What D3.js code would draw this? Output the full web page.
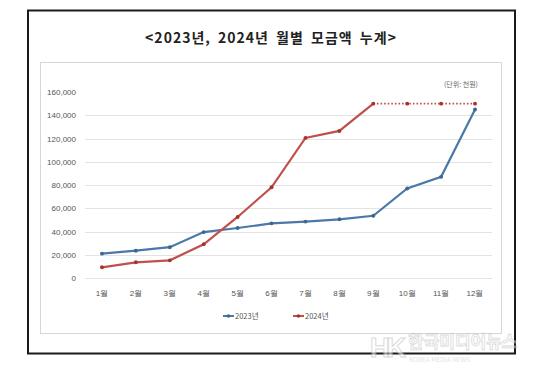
<!DOCTYPE html>
<html><head><meta charset="utf-8">
<script src="https://cdn.jsdelivr.net/npm/d3@7"></script>
<style>
html,body{margin:0;padding:0;background:#fff;}
svg{display:block;font-family:"Noto Sans CJK KR","Noto Sans",sans-serif;}
</style></head>
<body><svg id="c" width="541" height="378"></svg>
<script>
const months = ["1월","2월","3월","4월","5월","6월","7월","8월","9월","10월","11월","12월"];
const values2023 = [21000,23500,26500,39500,43000,47000,48500,50500,53500,77000,87000,145000];
const values2024 = [9200,13500,15200,29000,52500,78000,120500,126500,150000];
const values2024Projected = [150000,150000,150000,150000];
const yTicks = [0,20000,40000,60000,80000,100000,120000,140000,160000];
const seriesNames = ["2023년","2024년"];
const title = "<2023년, 2024년 월별 모금액 누계>";
const unitLabel = "(단위: 천원)";

const svg = d3.select("#c");
const blue = "#4a78a8", red = "#c0504d";
const blueMk = "#3d6690", redMk = "#a8322e";

// outer frame
svg.append("rect").attr("x",28).attr("y",10.5).attr("width",487).attr("height",343)
  .attr("fill","#fff").attr("stroke","#1a1a1a").attr("stroke-width",2);
// title
svg.append("text").attr("x",271).attr("y",43).attr("text-anchor","middle")
  .attr("font-size",14).attr("font-weight","bold").attr("fill","#222")
  .attr("letter-spacing",1).attr("word-spacing",3).text(title);
// inner chart box
svg.append("rect").attr("x",40.5).attr("y",62.5).attr("width",461).attr("height",271)
  .attr("fill","#fff").attr("stroke","#d6d6d6").attr("stroke-width",1);

const x = d3.scaleBand().domain(months).range([85,492]);
const cx = m => x(m) + x.bandwidth()/2;
const y = d3.scaleLinear().domain([0,160000]).range([278,92]);

// gridlines
svg.append("g").selectAll("line").data(yTicks.filter(t=>t<160000)).join("line")
  .attr("x1",85).attr("x2",492).attr("y1",d=>Math.round(y(d))+0.5).attr("y2",d=>Math.round(y(d))+0.5)
  .attr("stroke","#e3e3e3").attr("stroke-width",1.2);

// y axis labels
const yAxis = d3.axisLeft(y).tickValues(yTicks).tickSize(0).tickPadding(0)
  .tickFormat(d3.format(","));
const ya = svg.append("g").attr("transform","translate(76,0)").call(yAxis);
ya.select(".domain").remove();
ya.selectAll("text").attr("font-size",8).attr("fill","#555").attr("font-family","'Liberation Sans',sans-serif");

// x axis labels
const xAxis = d3.axisBottom(x).tickSize(0).tickPadding(0);
const xa = svg.append("g").attr("transform","translate(0,290)").call(xAxis);
xa.select(".domain").remove();
xa.selectAll("text").attr("font-size",8).attr("fill","#555");

// unit label
svg.append("text").attr("x",478).attr("y",87).attr("text-anchor","end")
  .attr("font-size",7).attr("fill","#666").text(unitLabel);

const line = d3.line().x(d=>cx(d.m)).y(d=>y(d.v));
const d23 = values2023.map((v,i)=>({m:months[i],v}));
const d24 = values2024.map((v,i)=>({m:months[i],v}));
const d24p = values2024Projected.map((v,i)=>({m:months[i+8],v}));

svg.append("path").datum(d23).attr("d",line).attr("fill","none").attr("stroke",blue).attr("stroke-width",2.2);
svg.append("path").datum(d24p).attr("d",line).attr("fill","none").attr("stroke",red)
  .attr("stroke-width",1.8).attr("stroke-dasharray","1.6,2");
svg.append("path").datum(d24).attr("d",line).attr("fill","none").attr("stroke",red).attr("stroke-width",2.2);

function markers(data,color){
  svg.append("g").selectAll("path").data(data).join("path")
    .attr("transform",d=>`translate(${cx(d.m)},${y(d.v)})`)
    .attr("d",d3.symbol(d3.symbolCircle,12)).attr("fill",color);
}
markers(d23,blueMk);
markers(d24.concat(d24p.slice(1)),redMk);

// legend
const lg = [{name:seriesNames[0],c:blue,mk:blueMk,x:223},{name:seriesNames[1],c:red,mk:redMk,x:293}];
const lgG = svg.append("g").selectAll("g").data(lg).join("g").attr("transform",d=>`translate(${d.x},316)`);
lgG.append("line").attr("x1",0).attr("x2",11).attr("y1",0).attr("y2",0).attr("stroke",d=>d.c).attr("stroke-width",2);
lgG.append("path").attr("transform","translate(5.5,0)").attr("d",d3.symbol(d3.symbolCircle,10)).attr("fill",d=>d.mk);
lgG.append("text").attr("x",12).attr("y",3).attr("font-size",7.5).attr("fill","#555").text(d=>d.name);

// watermark
const wm = svg.append("g").attr("opacity",0.55);
wm.append("text").attr("x",370).attr("y",357).attr("font-size",27).attr("font-weight","bold")
  .attr("fill","#fff").attr("stroke","#bbb").attr("stroke-width",1).attr("font-family","'Liberation Sans',sans-serif")
  .attr("letter-spacing",-3).text("HK");
wm.append("text").attr("x",408).attr("y",348).attr("font-size",17).attr("font-weight","bold")
  .attr("fill","#fff").attr("stroke","#bbb").attr("stroke-width",0.8).text("한국미디어뉴스");
wm.append("text").attr("x",409).attr("y",362).attr("font-size",6.5)
  .attr("fill","#ccc").text("KOREA MEDIA NEWS");
</script></body></html>
